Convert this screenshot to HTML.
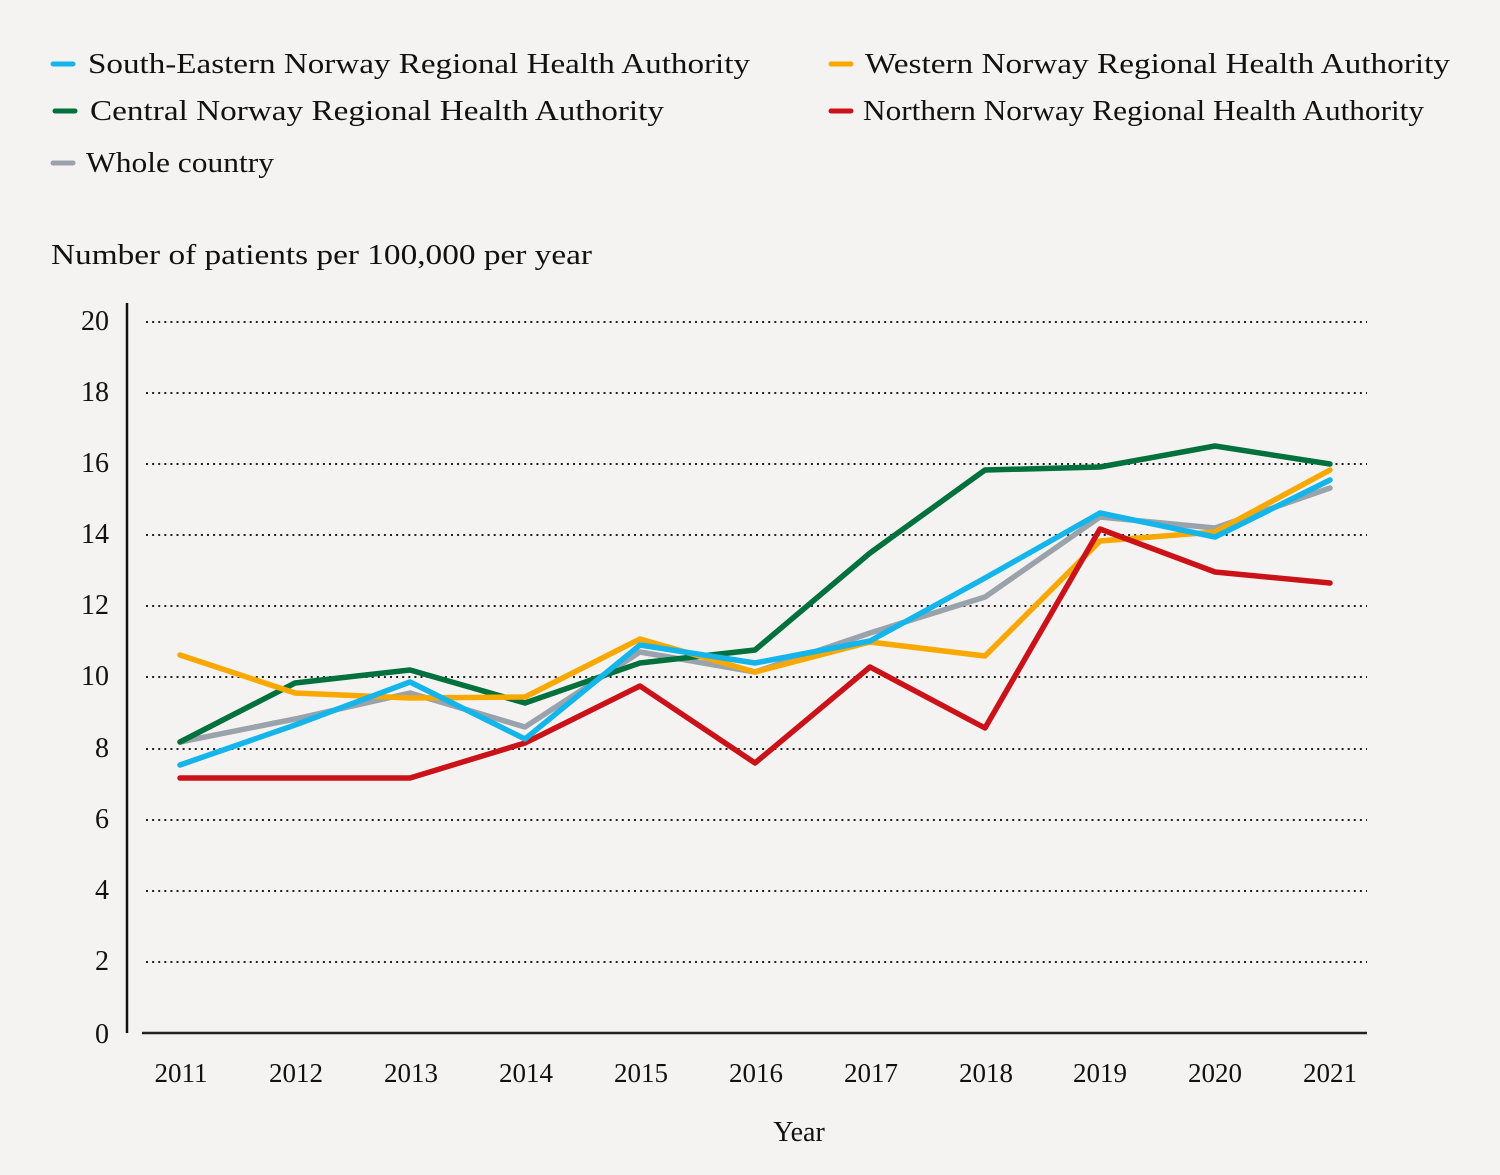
<!DOCTYPE html>
<html><head><meta charset="utf-8"><style>
html,body{margin:0;padding:0;background:#f4f3f1;}
svg{display:block;}
text{font-family:"Liberation Serif",serif;fill:#111;}
</style></head><body>
<svg width="1500" height="1175" viewBox="0 0 1500 1175" xmlns="http://www.w3.org/2000/svg">
<rect width="1500" height="1175" fill="#f4f3f1"/>
<!-- legend -->
<g stroke-linecap="round" stroke-width="5">
<line x1="53" y1="64" x2="73" y2="64" stroke="#13b5ea"/>
<line x1="55" y1="111" x2="75" y2="111" stroke="#00703c"/>
<line x1="53" y1="163" x2="73" y2="163" stroke="#9aa3ab"/>
<line x1="831" y1="64" x2="851" y2="64" stroke="#f9a800"/>
<line x1="831" y1="111" x2="851" y2="111" stroke="#cc1219"/>
</g>
<g font-size="28">
<text x="88" y="73" textLength="662" lengthAdjust="spacingAndGlyphs">South-Eastern Norway Regional Health Authority</text>
<text x="90" y="120" textLength="574" lengthAdjust="spacingAndGlyphs">Central Norway Regional Health Authority</text>
<text x="86" y="172" textLength="188" lengthAdjust="spacingAndGlyphs">Whole country</text>
<text x="865" y="73" textLength="585" lengthAdjust="spacingAndGlyphs">Western Norway Regional Health Authority</text>
<text x="863" y="120" textLength="561" lengthAdjust="spacingAndGlyphs">Northern Norway Regional Health Authority</text>
<text x="51" y="264" textLength="541" lengthAdjust="spacingAndGlyphs">Number of patients per 100,000 per year</text>
</g>
<!-- gridlines -->
<g stroke="#222" stroke-width="2" stroke-dasharray="2 4.1">
<line x1="146" y1="322" x2="1367" y2="322"/>
<line x1="146" y1="393" x2="1367" y2="393"/>
<line x1="146" y1="464" x2="1367" y2="464"/>
<line x1="146" y1="535" x2="1367" y2="535"/>
<line x1="146" y1="606" x2="1367" y2="606"/>
<line x1="146" y1="677" x2="1367" y2="677"/>
<line x1="146" y1="749" x2="1367" y2="749"/>
<line x1="146" y1="820" x2="1367" y2="820"/>
<line x1="146" y1="891" x2="1367" y2="891"/>
<line x1="146" y1="962" x2="1367" y2="962"/>
</g>
<!-- axes -->
<line x1="127" y1="303" x2="127" y2="1033" stroke="#111" stroke-width="2.5"/>
<line x1="142" y1="1033" x2="1367" y2="1033" stroke="#222" stroke-width="2.5"/>
<!-- y labels -->
<g font-size="28" text-anchor="end">
<text x="109" y="330">20</text>
<text x="109" y="401">18</text>
<text x="109" y="472">16</text>
<text x="109" y="543">14</text>
<text x="109" y="614">12</text>
<text x="109" y="685">10</text>
<text x="109" y="757">8</text>
<text x="109" y="828">6</text>
<text x="109" y="899">4</text>
<text x="109" y="970">2</text>
<text x="109" y="1043">0</text>
</g>
<!-- x labels -->
<g font-size="27" text-anchor="middle">
<text x="181" y="1082">2011</text>
<text x="296" y="1082">2012</text>
<text x="411" y="1082">2013</text>
<text x="526" y="1082">2014</text>
<text x="641" y="1082">2015</text>
<text x="756" y="1082">2016</text>
<text x="871" y="1082">2017</text>
<text x="986" y="1082">2018</text>
<text x="1100" y="1082">2019</text>
<text x="1215" y="1082">2020</text>
<text x="1330" y="1082">2021</text>
<text x="799" y="1141" font-size="28">Year</text>
</g>
<!-- series -->
<g fill="none" stroke-width="5.5" stroke-linejoin="round" stroke-linecap="round">
<polyline stroke="#9aa3ab" points="180,742 295,719 410,693 525,727 640,652 755,672 870,633 985,597 1100,517 1215,528 1330,488"/>
<polyline stroke="#00703c" points="180,742 295,683 410,670 525,703 640,663 755,650 870,553 985,470 1100,467 1215,446 1330,464"/>
<polyline stroke="#f9a800" points="180,655 295,693 410,698 525,697 640,639 755,672 870,642 985,656 1100,541 1215,532 1330,470"/>
<polyline stroke="#cc1219" points="180,778 295,778 410,778 525,743 640,686 755,763 870,667 985,728 1100,529 1215,572 1330,583"/>
<polyline stroke="#13b5ea" points="180,765 295,725 410,682 525,739 640,645 755,663 870,641 985,578 1100,513 1215,537 1330,480"/>
</g>
</svg>
</body></html>
